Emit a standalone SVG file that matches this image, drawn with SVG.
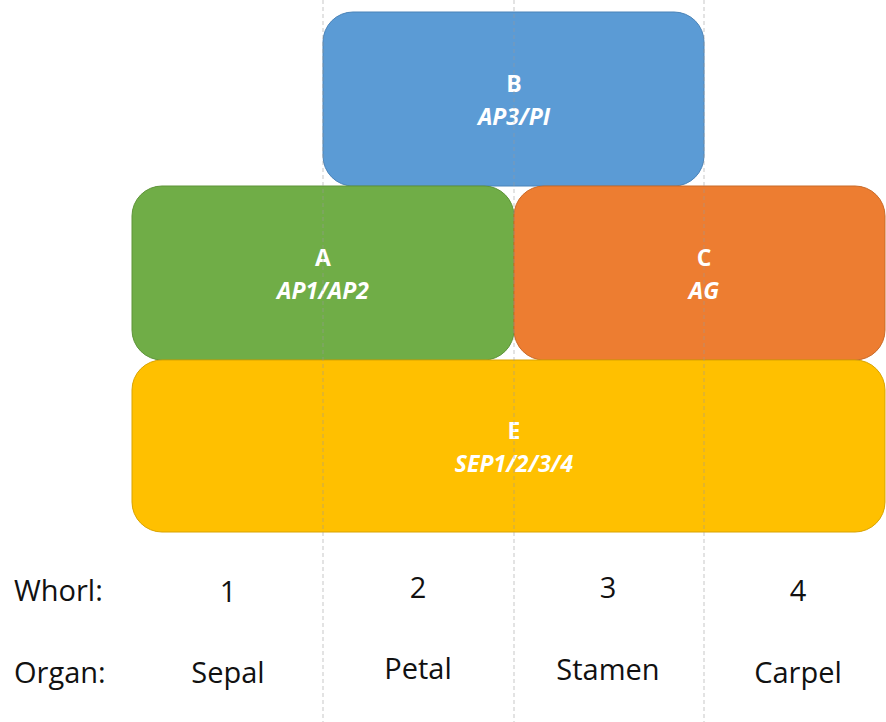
<svg xmlns="http://www.w3.org/2000/svg" width="886" height="722" viewBox="0 0 886 722">
  <style>
    .box { stroke-width: 1; }
    .lbl { font-family: "Open Sans", "Noto Sans", sans-serif; font-size: 23px; font-weight: bold; fill: #ffffff; text-anchor: middle; }
    .gene { font-style: italic; }
    .row { font-family: "Open Sans", "Noto Sans", sans-serif; font-size: 29px; fill: #111111; }
    .mid { text-anchor: middle; }
    .guide { stroke: #9a9a9a; stroke-opacity: 0.55; stroke-width: 1; stroke-dasharray: 4 3; fill: none; }
  </style>
  <rect width="886" height="722" fill="#ffffff"/>

  <!-- ABCE class gene domains -->
  <g id="node-B">
    <rect class="box" x="323" y="12" width="381" height="174" rx="30" fill="#5B9BD5" stroke="#4A83B8"/>
    <text class="lbl" x="514" y="92">B</text>
    <text class="lbl gene" x="514" y="125">AP3/PI</text>
  </g>
  <g id="node-A">
    <rect class="box" x="132" y="186" width="382" height="174" rx="30" fill="#70AD47" stroke="#5E9438"/>
    <text class="lbl" x="323" y="266">A</text>
    <text class="lbl gene" x="323" y="299">AP1/AP2</text>
  </g>
  <g id="node-C">
    <rect class="box" x="514" y="186" width="371" height="174" rx="30" fill="#ED7D31" stroke="#C96A28"/>
    <text class="lbl" x="704" y="266">C</text>
    <text class="lbl gene" x="704" y="299">AG</text>
  </g>
  <g id="node-E">
    <rect class="box" x="132" y="360" width="753" height="172" rx="30" fill="#FFC000" stroke="#D9A300"/>
    <text class="lbl" x="514" y="439">E</text>
    <text class="lbl gene" x="514" y="472">SEP1/2/3/4</text>
  </g>

  <!-- whorl boundaries -->
  <g id="connectors">
    <line class="guide" x1="323" y1="0" x2="323" y2="722"/>
    <line class="guide" x1="514" y1="0" x2="514" y2="722"/>
    <line class="guide" x1="704" y1="0" x2="704" y2="722"/>
  </g>

  <!-- whorl and organ rows -->
  <g id="row-whorl">
    <text class="row" x="14" y="601">Whorl:</text>
    <text class="row mid" x="228" y="602">1</text>
    <text class="row mid" x="418" y="598">2</text>
    <text class="row mid" x="608" y="598">3</text>
    <text class="row mid" x="798" y="601">4</text>
  </g>
  <g id="row-organ">
    <text class="row" x="14" y="683">Organ:</text>
    <text class="row mid" x="228" y="683">Sepal</text>
    <text class="row mid" x="418" y="679">Petal</text>
    <text class="row mid" x="608" y="680">Stamen</text>
    <text class="row mid" x="798" y="683">Carpel</text>
  </g>
</svg>
